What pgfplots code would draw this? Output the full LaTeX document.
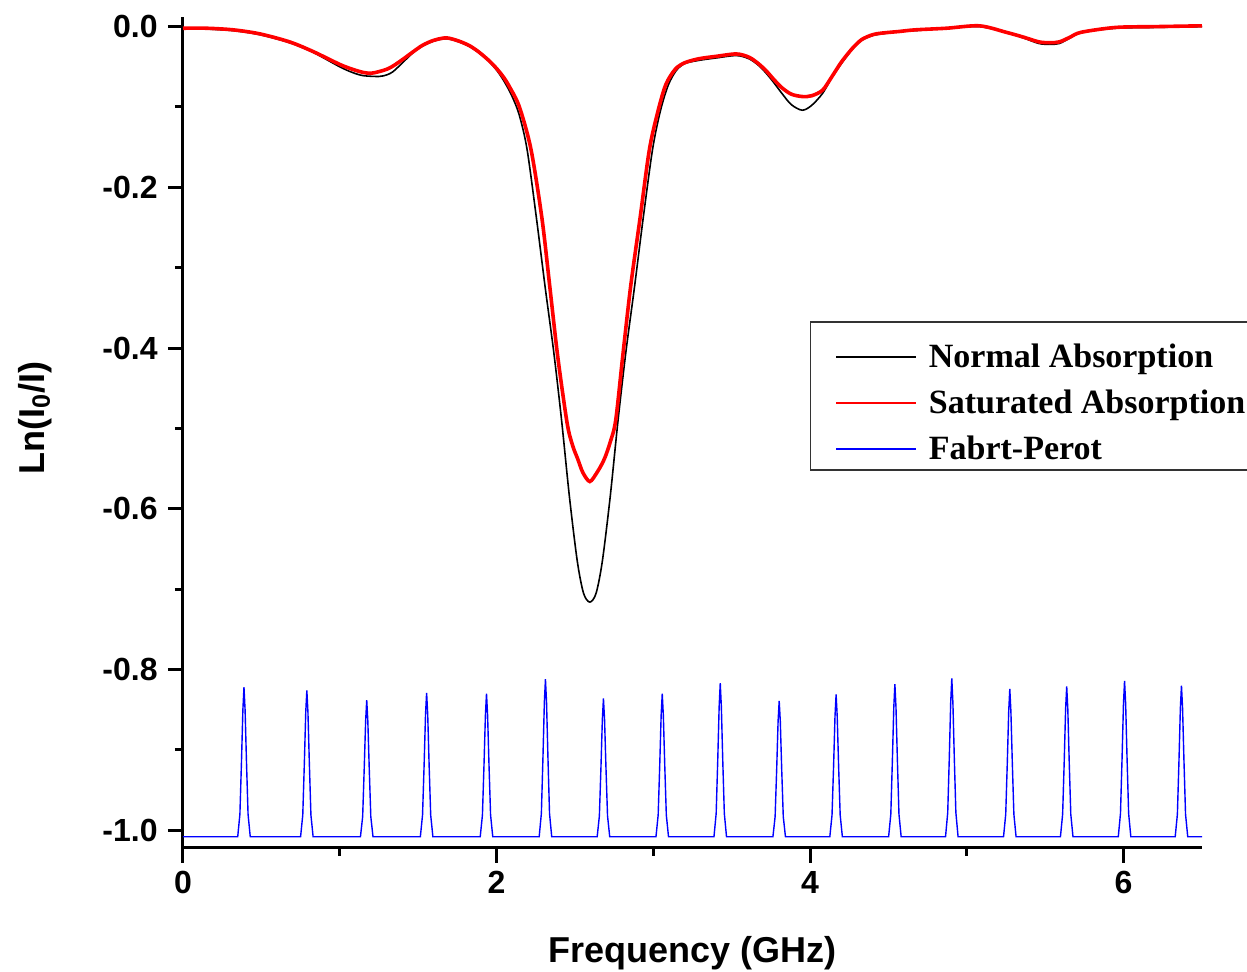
\documentclass[border=0pt]{standalone}
\usepackage{fontspec}
\setmainfont{Liberation Serif}
\setsansfont{Liberation Sans}
\usepackage{pgfplots}
\pgfplotsset{compat=1.18}

\pgfplotstableread{
x y
0 -0.002
0.15 -0.003
0.32 -0.005
0.49 -0.010
0.68 -0.020
0.83 -0.032
1.00 -0.050
1.08 -0.057
1.15 -0.061
1.25 -0.062
1.30 -0.060
1.34 -0.056
1.40 -0.045
1.47 -0.032
1.53 -0.024
1.60 -0.018
1.68 -0.015
1.76 -0.019
1.83 -0.025
1.89 -0.033
1.95 -0.043
2.00 -0.054
2.045 -0.067
2.095 -0.085
2.145 -0.110
2.195 -0.153
2.255 -0.239
2.31 -0.324
2.365 -0.405
2.415 -0.490
2.465 -0.585
2.515 -0.665
2.555 -0.705
2.595 -0.716
2.635 -0.705
2.675 -0.665
2.725 -0.585
2.775 -0.490
2.825 -0.405
2.88 -0.324
2.935 -0.239
2.995 -0.153
3.045 -0.105
3.095 -0.073
3.145 -0.055
3.20 -0.046
3.29 -0.042
3.40 -0.039
3.53 -0.036
3.61 -0.040
3.67 -0.048
3.72 -0.058
3.77 -0.070
3.82 -0.083
3.88 -0.097
3.95 -0.104
4.01 -0.098
4.08 -0.083
4.14 -0.063
4.20 -0.046
4.27 -0.028
4.33 -0.017
4.40 -0.011
4.46 -0.009
4.57 -0.006
4.67 -0.005
4.87 -0.002
5.08 0.000
5.25 -0.007
5.36 -0.014
5.46 -0.021
5.53 -0.022
5.59 -0.021
5.66 -0.014
5.73 -0.007
5.95 -0.002
6.20 -0.001
6.50 0.000
}\normaltable

\pgfplotstableread{
x y
0 -0.002
0.15 -0.002
0.32 -0.004
0.49 -0.009
0.68 -0.019
0.83 -0.031
1.00 -0.047
1.08 -0.053
1.15 -0.057
1.20 -0.058
1.25 -0.056
1.30 -0.053
1.34 -0.049
1.40 -0.041
1.47 -0.031
1.53 -0.023
1.60 -0.017
1.68 -0.014
1.76 -0.018
1.83 -0.024
1.89 -0.032
1.95 -0.042
2.00 -0.052
2.045 -0.063
2.083 -0.075
2.146 -0.100
2.22 -0.153
2.29 -0.239
2.34 -0.324
2.39 -0.410
2.45 -0.493
2.485 -0.521
2.518 -0.538
2.551 -0.555
2.595 -0.566
2.64 -0.555
2.67 -0.545
2.694 -0.535
2.725 -0.517
2.76 -0.490
2.805 -0.410
2.855 -0.324
2.915 -0.239
2.975 -0.153
3.03 -0.105
3.08 -0.072
3.14 -0.053
3.20 -0.045
3.29 -0.040
3.40 -0.037
3.53 -0.034
3.61 -0.038
3.67 -0.046
3.72 -0.055
3.77 -0.066
3.82 -0.076
3.88 -0.084
3.95 -0.087
4.01 -0.086
4.08 -0.079
4.14 -0.062
4.20 -0.044
4.27 -0.027
4.33 -0.016
4.40 -0.010
4.46 -0.008
4.57 -0.006
4.67 -0.004
4.87 -0.002
5.08 0.001
5.25 -0.007
5.36 -0.013
5.46 -0.019
5.53 -0.020
5.59 -0.019
5.66 -0.013
5.73 -0.007
5.95 -0.001
6.20 0.000
6.50 0.001
}\saturatedtable

\pgfplotstableread{
x y
0 -1.008
0.349 -1.008
0.363 -0.980
0.373 -0.915
0.382 -0.850
0.389 -0.822
0.396 -0.850
0.405 -0.915
0.415 -0.980
0.429 -1.008
0.750 -1.008
0.764 -0.981
0.774 -0.917
0.783 -0.853
0.790 -0.826
0.797 -0.853
0.806 -0.917
0.816 -0.981
0.830 -1.008
1.132 -1.008
1.146 -0.983
1.156 -0.923
1.165 -0.864
1.172 -0.838
1.179 -0.864
1.188 -0.923
1.198 -0.983
1.212 -1.008
1.514 -1.008
1.528 -0.981
1.538 -0.919
1.547 -0.856
1.554 -0.829
1.561 -0.856
1.570 -0.919
1.580 -0.981
1.594 -1.008
1.896 -1.008
1.910 -0.981
1.920 -0.919
1.929 -0.857
1.936 -0.830
1.943 -0.857
1.952 -0.919
1.962 -0.981
1.976 -1.008
2.272 -1.008
2.286 -0.979
2.296 -0.910
2.305 -0.841
2.312 -0.812
2.319 -0.841
2.328 -0.910
2.338 -0.979
2.352 -1.008
2.642 -1.008
2.656 -0.982
2.666 -0.922
2.675 -0.862
2.682 -0.836
2.689 -0.862
2.698 -0.922
2.708 -0.982
2.722 -1.008
3.017 -1.008
3.031 -0.981
3.041 -0.919
3.050 -0.857
3.057 -0.830
3.064 -0.857
3.073 -0.919
3.083 -0.981
3.097 -1.008
3.387 -1.008
3.401 -0.979
3.411 -0.913
3.420 -0.846
3.427 -0.817
3.434 -0.846
3.443 -0.913
3.453 -0.979
3.467 -1.008
3.763 -1.008
3.777 -0.983
3.787 -0.924
3.796 -0.864
3.803 -0.839
3.810 -0.864
3.819 -0.924
3.829 -0.983
3.843 -1.008
4.126 -1.008
4.140 -0.981
4.150 -0.920
4.159 -0.858
4.166 -0.831
4.173 -0.858
4.182 -0.920
4.192 -0.981
4.206 -1.008
4.501 -1.008
4.515 -0.980
4.525 -0.913
4.534 -0.847
4.541 -0.818
4.548 -0.847
4.557 -0.913
4.567 -0.980
4.581 -1.008
4.864 -1.008
4.878 -0.978
4.888 -0.910
4.897 -0.841
4.904 -0.811
4.911 -0.841
4.920 -0.910
4.930 -0.978
4.944 -1.008
5.234 -1.008
5.248 -0.980
5.258 -0.916
5.267 -0.852
5.274 -0.824
5.281 -0.852
5.290 -0.916
5.300 -0.980
5.314 -1.008
5.597 -1.008
5.611 -0.980
5.621 -0.915
5.630 -0.849
5.637 -0.821
5.644 -0.849
5.653 -0.915
5.663 -0.980
5.677 -1.008
5.966 -1.008
5.980 -0.979
5.990 -0.911
5.999 -0.843
6.006 -0.814
6.013 -0.843
6.022 -0.911
6.032 -0.979
6.046 -1.008
6.329 -1.008
6.343 -0.980
6.353 -0.914
6.362 -0.848
6.369 -0.820
6.376 -0.848
6.385 -0.914
6.395 -0.980
6.409 -1.008
6.50 -1.008
}\fptable

\begin{document}
\begin{tikzpicture}
\begin{axis}[
  scale only axis,
  width=509.5pt, height=415.5pt,
  xmin=0, xmax=6.5, ymin=-1.022, ymax=0.012,
  axis x line=bottom, axis y line=left,
  axis line style={-, line width=1.5pt},
  tick align=outside,
  major tick length=7.5pt, minor tick length=4pt,
  every tick/.append style={black, line width=1.5pt},
  xtick={0,2,4,6},
  ytick={-1.0,-0.8,-0.6,-0.4,-0.2,0.0},
  minor tick num=1,
  /pgf/number format/assume math mode=true,
  tick label style={font=\fontsize{16}{19}\selectfont\sffamily\bfseries},
  yticklabel style={/pgf/number format/fixed, /pgf/number format/fixed zerofill, /pgf/number format/precision=1, inner sep=0pt, xshift=-5pt},
  xticklabel style={inner sep=0pt, yshift=-4pt},
  xlabel={Frequency (GHz)},
  ylabel={Ln(I\textsubscript{0}/I)},
  label style={font=\fontsize{18}{21}\selectfont\sffamily\bfseries},
  xlabel style={at={(axis description cs:0.5,-0.106)}, anchor=north, inner sep=0pt},
  ylabel style={at={(axis description cs:-0.1286,0.518)}, anchor=south, inner sep=0pt},
  legend style={at={(axis description cs:0.615,0.634)}, anchor=north west,
    draw=black!80, line width=0.8pt, fill=white,
    inner xsep=12.5pt, inner ysep=5pt, row sep=5pt, column sep=6pt,
    font=\fontsize{17}{20}\selectfont\rmfamily\bfseries,
    nodes={inner sep=0pt, text height=18pt, text depth=0pt}},
  legend cell align=left,
  legend image code/.code={\draw[#1, line width=0.7pt] (0pt,-3.5pt) -- (40pt,-3.5pt);},
]
\addplot[black, line width=0.8pt, smooth, tension=0.5] table[x=x, y=y] {\normaltable};
\addlegendentry{Normal Absorption}
\addplot[red, line width=1.8pt, smooth, tension=0.5] table[x=x, y=y] {\saturatedtable};
\addlegendentry{Saturated Absorption}
\addplot[blue, line width=0.7pt] table[x=x, y=y] {\fptable};
\addlegendentry{Fabrt-Perot}
\end{axis}
\pgfresetboundingbox
\path[use as bounding box] ([shift={(-91.5pt,-62pt)}]current axis.south west) rectangle ([shift={(532pt,424pt)}]current axis.south west);
\end{tikzpicture}
\end{document}
